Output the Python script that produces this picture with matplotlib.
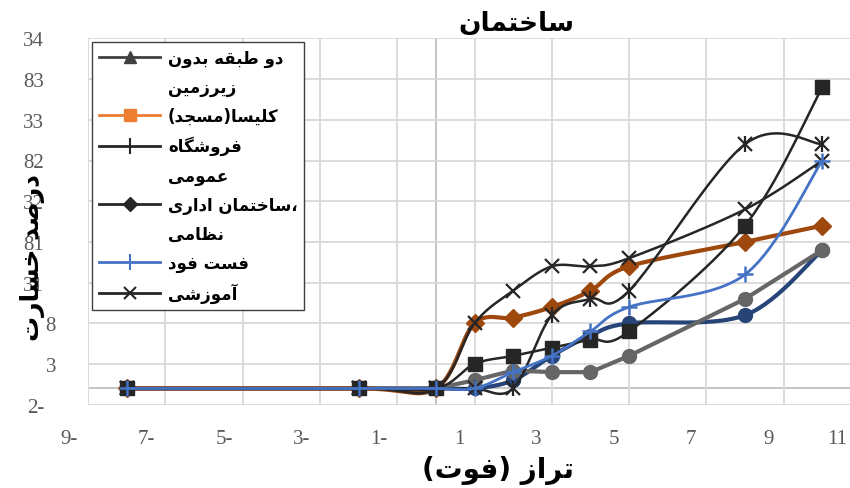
import re
import matplotlib
matplotlib.use('Agg')
import matplotlib.pyplot as plt
import numpy as np
from matplotlib.lines import Line2D
from matplotlib import transforms

# flood level (ft) and damage percentage per building type
levels = [-8, -2, 0, 1, 2, 3, 4, 5, 8, 10]
square_vals = [0, 0, 0, 3, 4, 5, 6, 7, 20, 37]
diamond_vals = [0, 0, 0, 8, 8.7, 10, 12, 15, 18, 20]
cross_vals = [0, 0, 0, 8, 12, 15, 15, 16, 22, 28]
star_vals = [0, 0, 0, 0, 0, 9, 11, 12, 30, 30]
navy_vals = [0, 0, 0, 0, 1, 4, 6.5, 8, 9, 17]
gray_vals = [0, 0, 0, 1, 2.2, 2, 2, 4, 11, 17]
plus_vals = [0, 0, 0, 0, 2, 4, 7, 10, 14, 28]

x_ticks = [-9, -7, -5, -3, -1, 1, 3, 5, 7, 9, 11]
x_ticklabels = ['9-', '7-', '5-', '3-', '1-', '1', '3', '5', '7', '9', '11']
y_ticks = [-2, 3, 8, 13, 18, 23, 28, 33, 38, 43]
y_ticklabels = ['2-', '3', '8', '31', '81', '32', '82', '33', '83', '34']

title = 'ساختمان'
x_title = 'تراز (فوت)'
y_title = 'درصد خسارت'
legend_rows = ['دو طبقه بدون', 'زیرزمین', 'کلیسا(مسجد)', 'فروشگاه', 'عمومی',
               'ساختمان اداری،', 'نظامی', 'فست فود', 'آموزشی']

# isolated, final, initial, medial presentation forms
FORMS = {
    'ا': ('\uFE8D', '\uFE8E', None, None),
    'آ': ('\uFE81', '\uFE82', None, None),
    'د': ('\uFEA9', '\uFEAA', None, None),
    'ر': ('\uFEAD', '\uFEAE', None, None),
    'ز': ('\uFEAF', '\uFEB0', None, None),
    'و': ('\uFEED', '\uFEEE', None, None),
    'ب': ('\uFE8F', '\uFE90', '\uFE91', '\uFE92'),
    'ت': ('\uFE95', '\uFE96', '\uFE97', '\uFE98'),
    'ج': ('\uFE9D', '\uFE9E', '\uFE9F', '\uFEA0'),
    'خ': ('\uFEA5', '\uFEA6', '\uFEA7', '\uFEA8'),
    'س': ('\uFEB1', '\uFEB2', '\uFEB3', '\uFEB4'),
    'ش': ('\uFEB5', '\uFEB6', '\uFEB7', '\uFEB8'),
    'ص': ('\uFEB9', '\uFEBA', '\uFEBB', '\uFEBC'),
    'ط': ('\uFEC1', '\uFEC2', '\uFEC3', '\uFEC4'),
    'ظ': ('\uFEC5', '\uFEC6', '\uFEC7', '\uFEC8'),
    'ع': ('\uFEC9', '\uFECA', '\uFECB', '\uFECC'),
    'ف': ('\uFED1', '\uFED2', '\uFED3', '\uFED4'),
    'ق': ('\uFED5', '\uFED6', '\uFED7', '\uFED8'),
    'ل': ('\uFEDD', '\uFEDE', '\uFEDF', '\uFEE0'),
    'م': ('\uFEE1', '\uFEE2', '\uFEE3', '\uFEE4'),
    'ن': ('\uFEE5', '\uFEE6', '\uFEE7', '\uFEE8'),
    'ه': ('\uFEE9', '\uFEEA', '\uFEEB', '\uFEEC'),
    'ی': ('\uFBFC', '\uFBFD', '\uFBFE', '\uFBFF'),
    'ک': ('\uFB8E', '\uFB8F', '\uFB90', '\uFB91'),
    'گ': ('\uFB92', '\uFB93', '\uFB94', '\uFB95'),
}
RUN = re.compile('[' + ''.join(FORMS) + ']+')
MIRROR = str.maketrans('()', ')(')


def shape_word(word):
    out = []
    for i, ch in enumerate(word):
        iso, fin, ini, med = FORMS[ch]
        prev = i > 0 and FORMS[word[i - 1]][2] is not None
        nxt = i < len(word) - 1 and ini is not None
        if prev and nxt:
            out.append(med)
        elif prev:
            out.append(fin)
        elif nxt:
            out.append(ini)
        else:
            out.append(iso)
    return ''.join(reversed(out))


def fa(text):
    # joined glyphs in right-to-left visual order; a trailing comma stays last
    tail = ''
    if text.endswith('،'):
        text, tail = text[:-1], '،'
    parts = []
    pos = 0
    for m in RUN.finditer(text):
        if m.start() > pos:
            parts.append(text[pos:m.start()][::-1].translate(MIRROR))
        parts.append(shape_word(m.group()))
        pos = m.end()
    if pos < len(text):
        parts.append(text[pos:][::-1].translate(MIRROR))
    return ''.join(parts[::-1]) + tail


def smooth(ax, xs, ys, n=30):
    # bezier smoothing done in screen space, like a spreadsheet "smoothed line"
    pts = ax.transData.transform(np.column_stack([xs, ys]))
    p = np.vstack([pts[0], pts, pts[-1]])
    out = [pts[0]]
    t = np.linspace(0, 1, n)[1:, None]
    for i in range(1, len(p) - 2):
        p0, p1, p2, p3 = p[i - 1], p[i], p[i + 1], p[i + 2]
        c1 = p1 + (p2 - p0) / 6
        c2 = p2 - (p3 - p1) / 6
        seg = (1 - t) ** 3 * p1 + 3 * (1 - t) ** 2 * t * c1 + 3 * (1 - t) * t ** 2 * c2 + t ** 3 * p2
        out.extend(seg)
    out = ax.transData.inverted().transform(np.array(out))
    return out[:, 0], out[:, 1]


W, H = 850, 489
fig = plt.figure(figsize=(W / 100, H / 100), dpi=100)
ax = fig.add_axes([88 / W, 1 - 405.7 / H, (861 - 88) / W, (405.7 - 39.4) / H])
ax.set_xlim(-9, 11)
ax.set_ylim(-2, 43)
for s in ax.spines.values():
    s.set_visible(False)
ax.set_xticks(x_ticks)
ax.set_yticks(y_ticks)
ax.tick_params(length=0, labelbottom=False, labelleft=False)
ax.grid(True, color='#D9D9D9', lw=1.3, zorder=0)
ax.set_axisbelow(True)
ax.axhline(0, color='#BFBFBF', lw=1.3, zorder=0.5)
ax.axvline(0, color='#BFBFBF', lw=1.3, zorder=0.5)

dark = '#262626'
series = [
    (navy_vals, '#264478', 3.0, True, dict(marker='o', ms=10), 2),
    (gray_vals, '#666666', 3.0, False, dict(marker='o', ms=10), 2.5),
    (diamond_vals, '#9E480E', 3.0, True, dict(marker='D', ms=9.5), 3),
    (cross_vals, dark, 1.8, True, dict(marker='x', ms=10, mew=1.6), 4),
    (star_vals, dark, 1.8, True, dict(marker='x', ms=10, mew=1.6), 5),
    (square_vals, dark, 1.8, True, dict(marker='s', ms=9.5), 6),
    (plus_vals, '#4472C4', 2.0, True, dict(marker='+', ms=12, mew=1.8), 8),
]
for vals, color, lw, smoothed, mk, z in series:
    if smoothed:
        sx, sy = smooth(ax, levels, vals)
    else:
        sx, sy = levels, vals
    ax.plot(sx, sy, color=color, lw=lw, zorder=z, solid_capstyle='round')
    ax.plot(levels, vals, ls='none', color=color, mfc=color, mec=color, zorder=z + 0.1, **mk)
# asterisk markers get an extra vertical stroke
ax.plot(levels, star_vals, ls='none', marker='|', ms=12, mew=1.6, color=dark, zorder=5.2)

# tick labels (right aligned just left of each grid line)
tick_font = dict(family='Liberation Serif', size=15, color='#595959')
fig.canvas.draw()
for v, s in zip(x_ticks, x_ticklabels):
    px = ax.transData.transform((v, 0))[0]
    right = min(px - 10, W - 3)
    fig.text(right / W, 1 - 440 / H, s, ha='right', va='center', **tick_font)
yt = transforms.blended_transform_factory(fig.transFigure, ax.transData)
for v, s in zip(y_ticks, y_ticklabels):
    ax.text((68 - 12 * len(s)) / W, v, s, transform=yt, ha='right', va='center_baseline',
            clip_on=False, **tick_font)

arabic = dict(family='DejaVu Sans', weight='bold')
fig.text(516 / W, 1 - 24 / H, fa(title), ha='center', va='center', size=19, **arabic)
fig.text(498 / W, 1 - 471 / H, fa(x_title), ha='center', va='center', size=20, **arabic)
fig.text(33 / W, 1 - 258 / H, fa(y_title), ha='center', va='center', size=18,
         rotation=90, **arabic)

# legend
handles = [
    Line2D([], [], color='#404040', lw=2, marker='^', ms=9),
    Line2D([], [], color='none'),
    Line2D([], [], color='#ED7D31', lw=2, marker='s', ms=9),
    Line2D([], [], color=dark, lw=2, marker='|', ms=12, mew=1.5),
    Line2D([], [], color='none'),
    Line2D([], [], color=dark, lw=2, marker='D', ms=7),
    Line2D([], [], color='none'),
    Line2D([], [], color='#4472C4', lw=2, marker='|', ms=12, mew=1.5),
    Line2D([], [], color=dark, lw=2, marker='x', ms=9, mew=1.5),
]
leg = fig.legend(handles, [fa(r) for r in legend_rows], loc='upper left',
                 bbox_to_anchor=(92 / W, 1 - 43 / H), bbox_transform=fig.transFigure,
                 prop=dict(family='DejaVu Sans', weight='bold', size=12),
                 frameon=True, fancybox=False, edgecolor='#404040', framealpha=1,
                 handlelength=3.7, handletextpad=0.45, borderpad=0.4, labelspacing=0.66,
                 borderaxespad=0)
leg.get_frame().set_linewidth(1.0)
leg.set_zorder(10)

fig.savefig('out.png', dpi=100, facecolor='white')
